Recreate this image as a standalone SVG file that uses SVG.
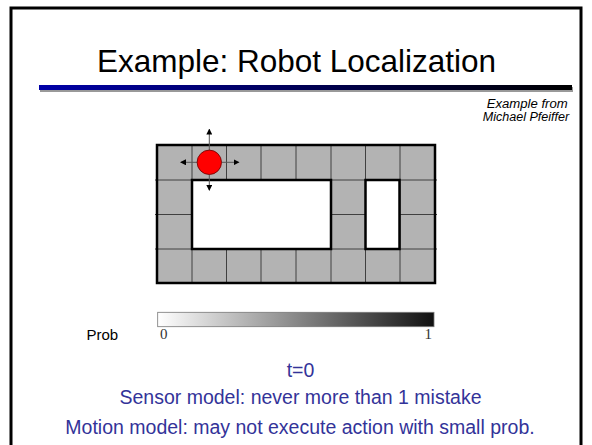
<svg xmlns="http://www.w3.org/2000/svg" width="592" height="445" viewBox="0 0 592 445">
<style>
.title{font-family:"Liberation Sans",Arial,sans-serif;font-size:31.5px;fill:#000}
.cred{font-family:"Liberation Sans",Arial,sans-serif;font-size:12.5px;font-style:italic;fill:#000}
.cell{fill:#b3b3b3;stroke:#404040;stroke-width:1}
.wall{fill:#fff;stroke:#000;stroke-width:2.5}
.arr{stroke:#555;stroke-width:1;marker-end:url(#ah)}
.blue{font-family:"Liberation Sans",Arial,sans-serif;font-size:19.5px;fill:#333399;text-anchor:middle}
.num{font-family:"Liberation Serif","Times New Roman",serif;font-size:15px;fill:#333}
</style>
<defs>
<linearGradient id="tl" x1="0" x2="1" y1="0" y2="0">
<stop offset="0" stop-color="#0000a8"/>
<stop offset="1" stop-color="#000"/>
</linearGradient>
<linearGradient id="pb" x1="0" x2="1" y1="0" y2="0">
<stop offset="0" stop-color="#fff"/>
<stop offset="1" stop-color="#111"/>
</linearGradient>
<marker id="ah" markerWidth="6" markerHeight="6" refX="5" refY="3" orient="auto" markerUnits="userSpaceOnUse">
<path d="M0,0 L6,3 L0,6 z" fill="#000"/>
</marker>
</defs>
<rect x="0" y="0" width="592" height="445" fill="#fff"/>
<rect x="11" y="8" width="570" height="450" fill="none" stroke="#000" stroke-width="3"/>
<text class="title" x="296.5" y="72" text-anchor="middle">Example: Robot Localization</text>
<rect x="40" y="87" width="533" height="5" fill="#999"/>
<rect x="39" y="85" width="533" height="5" fill="url(#tl)"/>
<text class="cred" x="486.7" y="108" textLength="81" lengthAdjust="spacingAndGlyphs">Example from</text>
<text class="cred" x="482.7" y="121" textLength="86.6" lengthAdjust="spacingAndGlyphs">Michael Pfeiffer</text>
<g id="grid">
<rect class="cell" x="157" y="145" width="278" height="138"/>
<path d="M192,145V283M226.5,145V283M261,145V283M296,145V283M331,145V283M365.5,145V283M400,145V283M155,180H437M155,214.5H437M155,249H437" stroke="#404040" stroke-width="1" fill="none"/>
<rect x="157" y="145" width="278" height="138" fill="none" stroke="#000" stroke-width="2.5"/>
<rect class="wall" x="192" y="180" width="139" height="69"/>
<rect class="wall" x="365.5" y="180" width="34" height="69"/>
</g>
<g id="robot">
<line class="arr" x1="209.3" y1="150" x2="209.3" y2="129.5"/>
<line class="arr" x1="209.3" y1="174.5" x2="209.3" y2="190"/>
<line class="arr" x1="197" y1="162.3" x2="181" y2="162.3"/>
<line class="arr" x1="221.5" y1="162.3" x2="238.5" y2="162.3"/>
<circle cx="209.3" cy="162.3" r="12.2" fill="#ff0000" stroke="#600" stroke-width="0.8"/>
</g>
<g id="legend">
<rect x="157.7" y="312.3" width="276.3" height="14.4" fill="url(#pb)" stroke="#777" stroke-width="0.8"/>
<text x="86.5" y="340" font-family="Liberation Sans,Arial,sans-serif" font-size="15" fill="#000">Prob</text>
<text class="num" x="160" y="339">0</text>
<text class="num" x="424.5" y="339">1</text>
</g>
<text class="blue" x="300.5" y="376.5">t=0</text>
<text class="blue" x="300.5" y="404">Sensor model: never more than 1 mistake</text>
<text class="blue" x="300" y="433.5">Motion model: may not execute action with small prob.</text>
</svg>
